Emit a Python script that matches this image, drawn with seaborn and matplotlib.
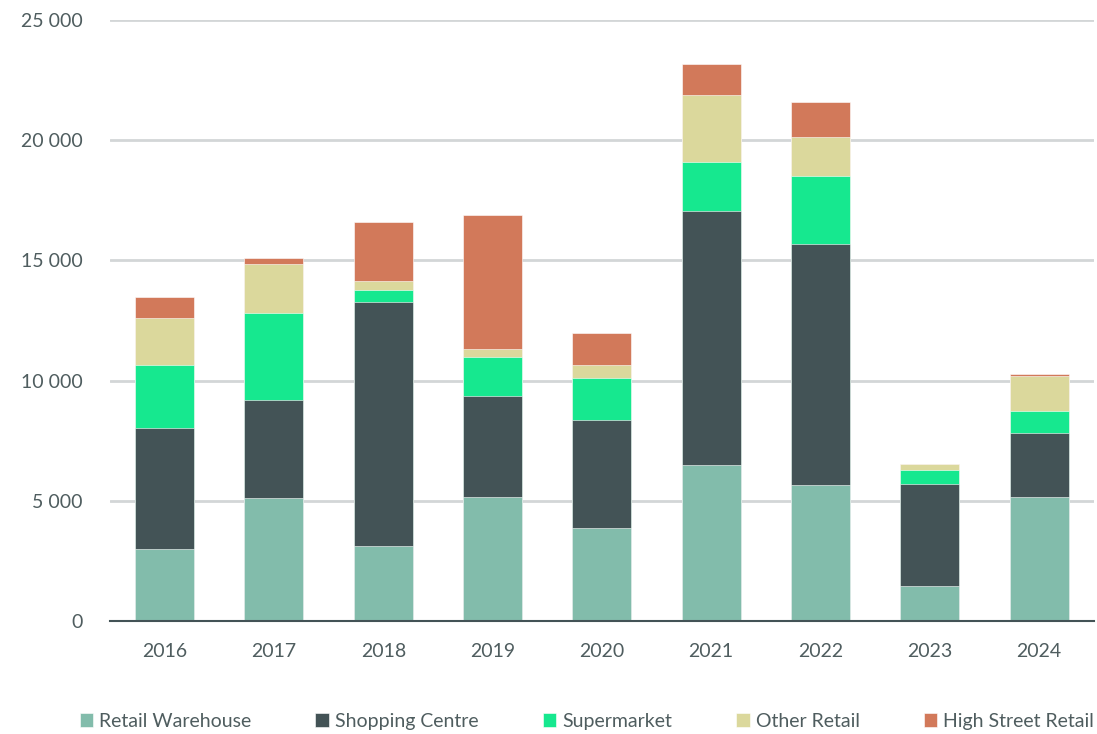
import numpy as np
import pandas as pd
import seaborn as sns
import matplotlib.pyplot as plt
from matplotlib.ticker import FuncFormatter

years = ['2016', '2017', '2018', '2019', '2020', '2021', '2022', '2023', '2024']
retail_warehouse = [3000, 5115, 3120, 5160, 3870, 6490, 5660, 1460, 5160]
shopping_centre = [5030, 4075, 10150, 4200, 4490, 10560, 10020, 4240, 2660]
supermarket = [2620, 3620, 500, 1620, 1750, 2040, 2830, 580, 920]
other_retail = [1950, 2040, 370, 330, 540, 2790, 1620, 250, 1450]
high_street = [880, 250, 2460, 5580, 1330, 1290, 1460, 0, 80]

series = ['Retail Warehouse', 'Shopping Centre', 'Supermarket', 'Other Retail', 'High Street Retail']
colors = ['#82bcab', '#435356', '#16e88f', '#dbd89c', '#d2795a']
text_col = '#4f5d5f'

df = pd.DataFrame({
    'year': years,
    'Retail Warehouse': retail_warehouse,
    'Shopping Centre': shopping_centre,
    'Supermarket': supermarket,
    'Other Retail': other_retail,
    'High Street Retail': high_street,
})
cum = df[series].cumsum(axis=1)

sns.set_style('white')
plt.rcParams['font.family'] = ['Lato', 'DejaVu Sans']

fig = plt.figure(figsize=(10.97, 7.34), dpi=100)
ax = fig.add_axes([0.1003, 0.154, 0.8967, 0.819])

# draw cumulative totals from the top down so each layer covers the next
for name, col in reversed(list(zip(series, colors))):
    sns.barplot(x=df['year'], y=cum[name], color=col, width=0.54,
                label=name, ax=ax, saturation=1, edgecolor='white', linewidth=0.4)

ax.set_ylim(0, 25000)
ax.set_xlim(-0.5, 8.5)
ax.set_yticks(range(0, 25001, 5000))
ax.yaxis.set_major_formatter(FuncFormatter(lambda v, p: f'{int(v):,}'.replace(',', ' ')))
ax.grid(axis='y', color='#d3d6d7', linewidth=2)
ax.set_axisbelow(True)
for s in ['top', 'right', 'left']:
    ax.spines[s].set_visible(False)
ax.spines['bottom'].set_color('#435356')
ax.spines['bottom'].set_linewidth(1.5)
ax.tick_params(axis='both', length=0, labelsize=14, labelcolor=text_col)
ax.tick_params(axis='x', pad=16)
ax.tick_params(axis='y', pad=20)
ax.set_xlabel('')
ax.set_ylabel('')

handles, labels = ax.get_legend_handles_labels()
if ax.get_legend():
    ax.get_legend().remove()
fig.legend(handles[::-1], labels[::-1], loc='center', ncol=5, frameon=False,
           bbox_to_anchor=(0.535, 0.0177), borderaxespad=0, fontsize=14, labelcolor=text_col,
           handlelength=0.7, handleheight=0.7, handletextpad=0.3, columnspacing=3.3)

fig.savefig('out.png', dpi=100)
